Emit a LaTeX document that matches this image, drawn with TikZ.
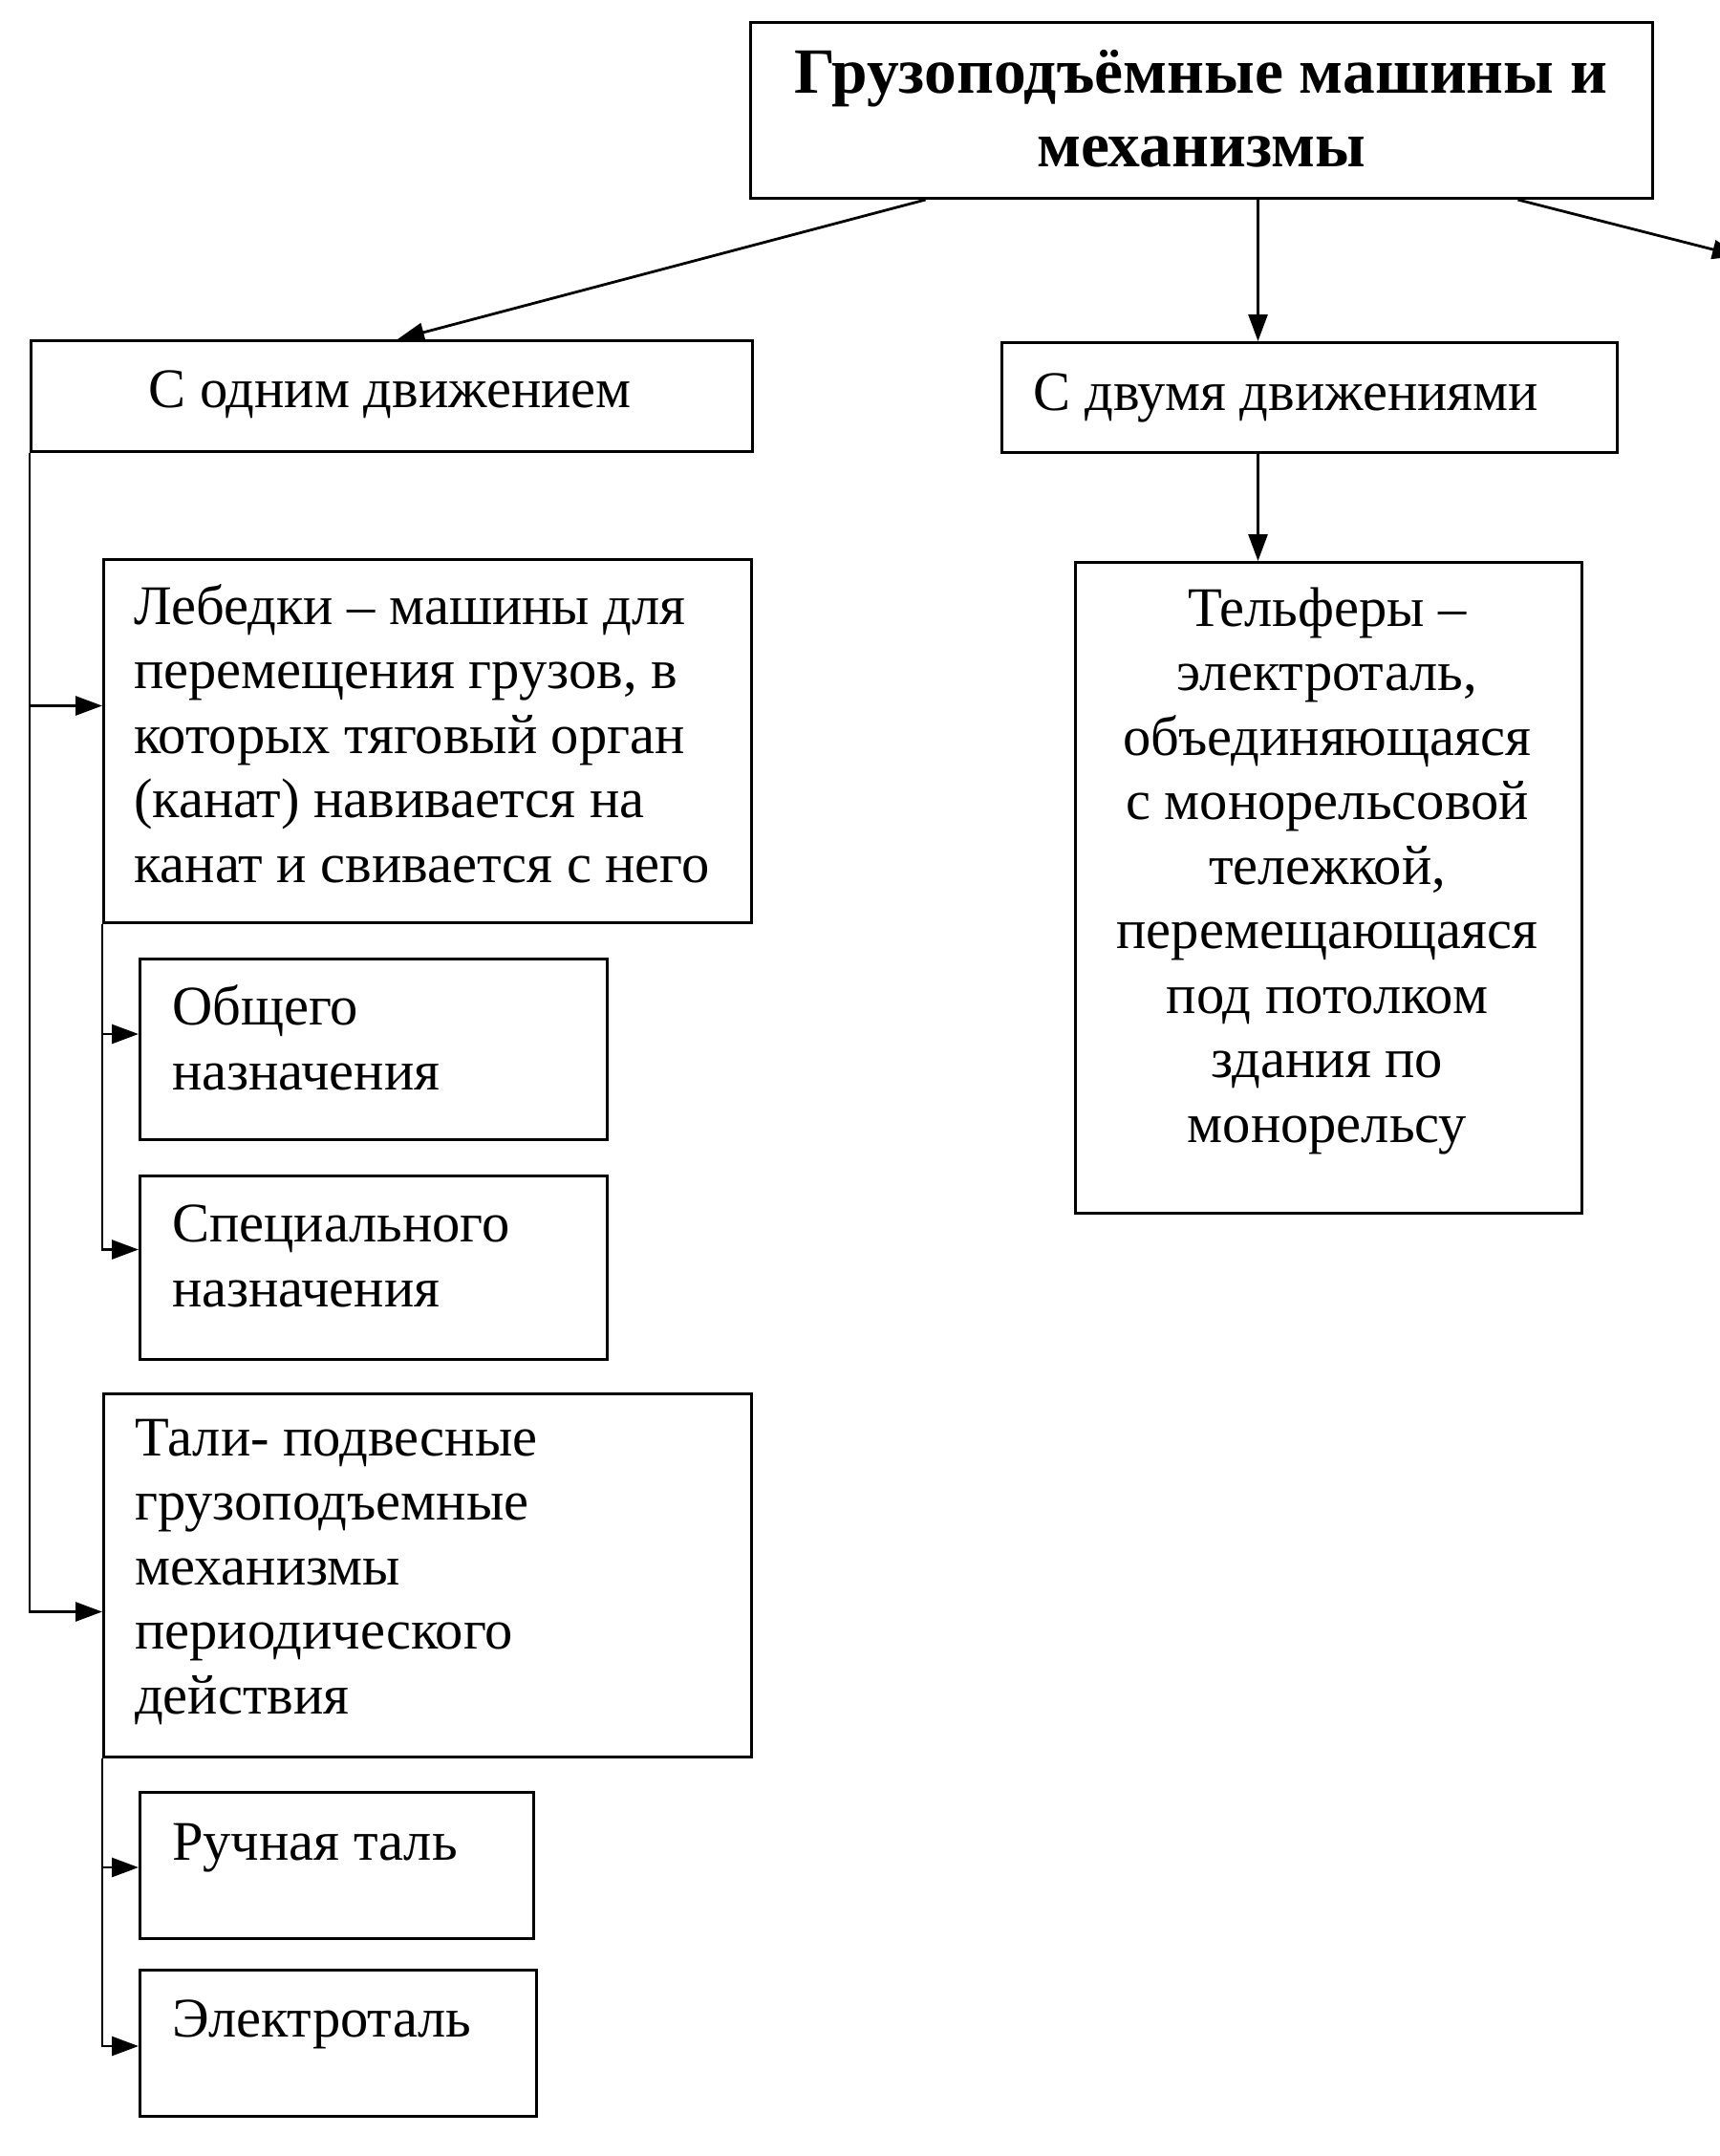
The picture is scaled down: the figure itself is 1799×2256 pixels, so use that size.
\documentclass[tikz,border=0pt]{standalone}
\usepackage{fontspec}
\setmainfont{Liberation Serif}
\usetikzlibrary{arrows.meta}
\begin{document}
\begin{tikzpicture}[x=1pt,y=-1pt,
  box/.style={draw, line width=3pt, inner sep=0pt, anchor=north west},
  txt/.style={inner sep=0pt, font=\fontsize{58.5}{67.5}\selectfont},
  arr/.style={line width=2.8pt, -{Triangle[length=28pt,width=20pt]}},
  ]
\useasboundingbox (0,0) rectangle (1799,2256);
% boxes
\node[box, minimum width=944pt, minimum height=184pt] (top) at (784,22) {};
\node[box, minimum width=755pt, minimum height=116pt] (odin) at (31,355) {};
\node[box, minimum width=644pt, minimum height=115pt] (dva) at (1047,357) {};
\node[box, minimum width=530pt, minimum height=681pt] (telf) at (1124,587) {};
\node[box, minimum width=678pt, minimum height=380pt] (leb) at (107,584) {};
\node[box, minimum width=489pt, minimum height=189pt] (obsh) at (145,1002) {};
\node[box, minimum width=489pt, minimum height=192pt] (spec) at (145,1229) {};
\node[box, minimum width=678pt, minimum height=380pt] (tali) at (107,1457) {};
\node[box, minimum width=412pt, minimum height=153pt] (ruch) at (145,1874) {};
\node[box, minimum width=415pt, minimum height=153pt] (elek) at (145,2060) {};
% texts (multi-line nodes: base = baseline of last line)
\node[txt, font=\fontsize{67.5}{77}\selectfont\bfseries, align=center, anchor=base] (ttop) at (1257,174) {Грузоподъёмные машины и\\механизмы};
\node[txt, anchor=base] (todin) at (408,426) {С одним движением};
\node[txt, anchor=base] (tdva) at (1346,429) {С двумя движениями};
\node[txt, align=center, anchor=base] (ttelf) at (1389,1195) {Тельферы –\\электроталь,\\объединяющаяся\\с монорельсовой\\тележкой,\\перемещающаяся\\под потолком\\здания по\\монорельсу};
\node[txt, align=left, anchor=base west] (tleb) at (140,923) {Лебедки – машины для\\перемещения грузов, в\\которых тяговый орган\\(канат) навивается на\\канат и свивается с него};
\node[txt, align=left, anchor=base west] (tobsh) at (180,1140) {Общего\\назначения};
\node[txt, align=left, anchor=base west] (tspec) at (180,1367) {Специального\\назначения};
\node[txt, align=left, anchor=base west] (ttali) at (141,1793) {Тали- подвесные\\грузоподъемные\\механизмы\\периодического\\действия};
\node[txt, anchor=base west] (truch) at (180,1946) {Ручная таль};
\node[txt, anchor=base west] (telek) at (180,2131) {Электроталь};
% connectors
\coordinate (offr) at (1820,268);
\draw[arr] ([xshift=-289pt]top.south) -- ([xshift=6pt]odin.north);
\draw[arr] ([xshift=59pt]top.south) -- ([xshift=-54pt]dva.north);
\draw[arr] ([xshift=331pt]top.south) -- (offr);
\draw[arr] ([xshift=-54pt]dva.south) -- ([xshift=-74pt]telf.north);
\draw[arr] (odin.south west) |- ([yshift=37pt]leb.west);
\draw[arr] (odin.south west) |- ([yshift=-38pt]tali.west);
\draw[arr] (leb.south west) |- ([yshift=16pt]obsh.west);
\draw[arr] (leb.south west) |- ([yshift=19pt]spec.west);
\draw[arr] (tali.south west) |- ([yshift=-2pt]ruch.west);
\draw[arr] (tali.south west) |- ([yshift=-3pt]elek.west);
\end{tikzpicture}
\end{document}
